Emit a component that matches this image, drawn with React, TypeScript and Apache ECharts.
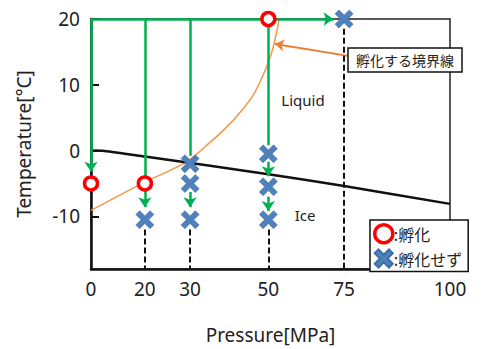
import React, { useEffect, useRef } from "react";
import * as echarts from "echarts";

// Pressure axis is schematic (not to scale): tick values and where each sits (% of axis length)
const pressureTicks = [0, 20, 30, 50, 75, 100];
const tickPositions = [0, 15.0, 27.6, 49.4, 70.5, 100];
const temperatureTicks = [-10, 0, 10, 20];

// [pressure MPa, temperature °C]
const hatched = [[0, -5], [20, -5], [50, 20]];
const notHatched = [
  [75, 20], [20, -10.5], [30, -2], [30, -5], [30, -10.5], [50, -0.5], [50, -5.5], [50, -10.5],
];
const iceLine = [
  [0, 0], [5, -0.05], [20, -0.9], [50, -3.6], [75, -5.4], [100, -8.1],
];
const hatchBoundary = [
  [0, -9.1], [19.4, -4.9], [29, -1.8], [35, 1.2], [39.4, 3.6], [43.2, 6.1], [46.2, 8.5],
  [48.3, 11], [50, 13.4], [51.7, 15.9], [53.5, 19.8],
];
// experiment paths: [from, to, hasArrow]
const pathSegments: [number[], number[], boolean][] = [
  [[0, 20], [71.5, 20], true],
  [[0, 20], [0, -3.2], true],
  [[20, 20], [20, -4], false],
  [[20, -6], [20, -8.6], true],
  [[30, 20], [30, -0.8], false],
  [[30, -6.3], [30, -8.6], true],
  [[50, 19], [50, 0.8], false],
  [[50, -1.7], [50, -3.9], true],
  [[50, -7], [50, -9.2], true],
];
const dropLines = [
  [[20, -12], [20, -18]],
  [[30, -12], [30, -18]],
  [[50, -12], [50, -18]],
  [[75, 18.5], [75, -18]],
];
const boundaryNote = [[75.9, 14.4], [52.2, 16.2]];

function pos(p: number): number {
  for (let i = 0; i < pressureTicks.length - 1; i++) {
    const a = pressureTicks[i], b = pressureTicks[i + 1];
    if (p <= b || i === pressureTicks.length - 2) {
      return tickPositions[i] + ((p - a) / (b - a)) * (tickPositions[i + 1] - tickPositions[i]);
    }
  }
  return p;
}
const toXY = (d: number[]) => [pos(d[0]), d[1]];

const X_PATH =
  "path://M4.2,0L10,5.8L15.8,0L20,4.2L14.2,10L20,15.8L15.8,20L10,14.2L4.2,20L0,15.8L5.8,10L0,4.2Z";
const FONT = "'Noto Sans', 'Noto Sans CJK JP', sans-serif";
const CJK = "'Noto Sans CJK JP', sans-serif";
const GREEN = "#00b050";

export default function App() {
  const ref = useRef<HTMLDivElement>(null);
  useEffect(() => {
    const chart = echarts.init(ref.current!, null, { renderer: "svg" });
    chart.setOption({
      animation: false,
      backgroundColor: "#fff",
      textStyle: { fontFamily: FONT },
      grid: {
        left: 91, top: 19, width: 359, height: 260, show: true,
        borderColor: "#222", borderWidth: 1.5, backgroundColor: "transparent",
      },
      xAxis: {
        type: "value", min: 0, max: 100,
        name: "Pressure[MPa]", nameLocation: "middle", nameGap: 56,
        nameTextStyle: { fontSize: 19, color: "#222", fontFamily: FONT },
        axisLine: { onZero: false, lineStyle: { color: "#111", width: 2.5 } },
        axisTick: { show: false },
        splitLine: { show: false },
        axisLabel: {
          customValues: tickPositions,
          formatter: (v: number) => {
            const i = tickPositions.findIndex((t) => Math.abs(t - v) < 0.01);
            return i >= 0 ? String(pressureTicks[i]) : "";
          },
          fontSize: 19, color: "#222", margin: 10, fontFamily: FONT,
        },
      },
      yAxis: {
        type: "value", min: -18, max: 20,
        name: "Temperature[°C]", nameLocation: "middle", nameGap: 58, nameRotate: 90,
        nameTextStyle: { fontSize: 19, color: "#222", fontFamily: FONT },
        axisLine: { onZero: false, lineStyle: { color: "#111", width: 2.5 } },
        axisTick: { customValues: temperatureTicks, inside: true, length: 8, lineStyle: { color: "#111", width: 2 } },
        axisLabel: { customValues: temperatureTicks, fontSize: 19, color: "#222", margin: 11, fontFamily: FONT },
        splitLine: { show: false },
      },
      legend: {
        left: 370, top: 220, orient: "vertical",
        borderColor: "#111", borderWidth: 1.5, backgroundColor: "#fff",
        padding: [3, 6, 3, 3], itemWidth: 18, itemHeight: 18, itemGap: 4,
        textStyle: { fontSize: 16, color: "#222", fontFamily: CJK, padding: [0, 0, 0, -4] },
        formatter: (n: string) => ":" + n,
        data: [
          { name: "孵化", itemStyle: { borderWidth: 3.5, borderColor: "#ff0000", color: "#fff" } },
          { name: "孵化せず" },
        ],
      },
      graphic: [
        {
          type: "rect", shape: { x: 348, y: 48, width: 114, height: 24 },
          style: { fill: "#fff", stroke: "#111", lineWidth: 1.5 }, z: 20,
        },
        {
          type: "text", x: 405, y: 60, z: 21,
          style: { text: "孵化する境界線", fontSize: 14, fill: "#222", fontFamily: CJK, align: "center", verticalAlign: "middle" },
        },
        {
          type: "text", x: 303, y: 100, z: 21,
          style: { text: "Liquid", fontSize: 15, fill: "#222", fontFamily: FONT, align: "center", verticalAlign: "middle" },
        },
        {
          type: "text", x: 305, y: 215, z: 21,
          style: { text: "Ice", fontSize: 15, fill: "#222", fontFamily: FONT, align: "center", verticalAlign: "middle" },
        },
      ],
      series: [
        {
          type: "line", smooth: 0.35, symbol: "none", z: 2, silent: true,
          data: hatchBoundary.map(toXY),
          lineStyle: { color: "#f79646", width: 1.5 },
          markLine: {
            silent: true, symbol: ["none", "arrow"], symbolSize: 9,
            label: { show: false },
            lineStyle: { color: "#ed7d31", width: 1.8, type: "solid" },
            data: [[{ coord: toXY(boundaryNote[0]) }, { coord: toXY(boundaryNote[1]) }]],
          },
        },
        {
          type: "line", smooth: 0.25, symbol: "none", z: 3, silent: true,
          data: iceLine.map(toXY),
          lineStyle: { color: "#111", width: 2.5 },
        },
        {
          type: "line", data: [], z: 4, silent: true,
          markLine: {
            silent: true, symbol: ["none", "arrow"], symbolSize: 10,
            label: { show: false },
            lineStyle: { color: GREEN, width: 2.5, type: "solid" },
            data: pathSegments.map(([a, b, arrow]) => [
              { coord: toXY(a) },
              arrow ? { coord: toXY(b) } : { coord: toXY(b), symbol: "none" },
            ]),
          },
        },
        {
          type: "line", data: [], z: 4, silent: true,
          markLine: {
            silent: true, symbol: ["none", "none"],
            label: { show: false },
            lineStyle: { color: "#111", width: 2, type: [6, 3] },
            data: dropLines.map(([a, b]) => [{ coord: toXY(a) }, { coord: toXY(b) }]),
          },
        },
        {
          name: "孵化", type: "scatter", z: 10,
          symbol: "circle", symbolSize: 13,
          data: hatched.map(toXY),
          itemStyle: { color: "#fff", borderColor: "#ff0000", borderWidth: 3.5, opacity: 1 },
        },
        {
          name: "孵化せず", type: "scatter", z: 10,
          symbol: X_PATH, symbolSize: 18,
          data: notHatched.map(toXY),
          itemStyle: { color: "#4f81bd", borderColor: "#3d6da6", borderWidth: 0.6, opacity: 1 },
        },
      ],
    });
    return () => chart.dispose();
  }, []);
  return (
    <div
      ref={ref}
      style={{ position: "fixed", left: 0, top: 0, width: 481, height: 349, background: "#fff" }}
    />
  );
}
